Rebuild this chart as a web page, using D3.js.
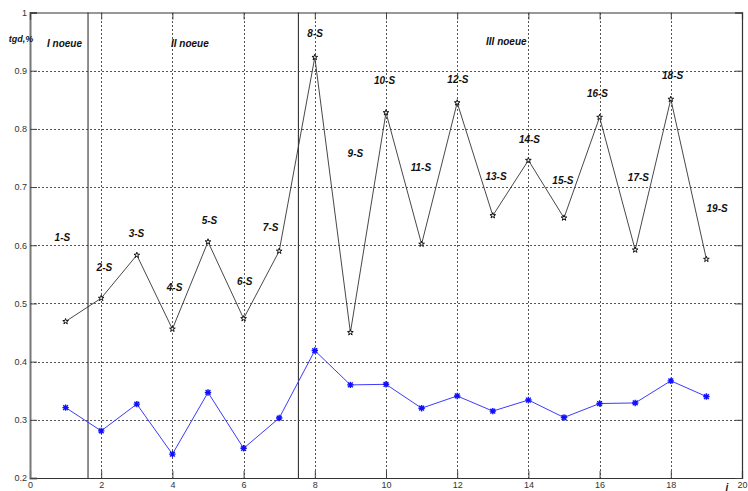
<!DOCTYPE html>
<html>
<head>
<meta charset="utf-8">
<script src="https://cdn.jsdelivr.net/npm/d3@7"></script>
<style>
  body { margin: 0; background: #fff; }
  svg { display: block; }
</style>
</head>
<body>
<svg id="chart" width="748" height="491"></svg>
<script>
// Sample numbers along the horizontal axis
const samples = d3.range(1, 20);

// tg δ, % — upper (black, star markers) and lower (blue, asterisk markers) series
const upperValues = [0.469, 0.509, 0.583, 0.456, 0.606, 0.474, 0.590, 0.923, 0.450, 0.828,
                     0.602, 0.845, 0.651, 0.746, 0.647, 0.820, 0.592, 0.851, 0.576];
const lowerValues = [0.321, 0.281, 0.327, 0.241, 0.347, 0.251, 0.303, 0.419, 0.360, 0.361,
                     0.320, 0.341, 0.315, 0.334, 0.304, 0.328, 0.329, 0.367, 0.340];

// Point annotations and their anchor points in data units
const pointLabels = samples.map(i => i + "-S");
const pointLabelX = [0.91, 2.09, 2.99, 4.06, 5.04, 6.03, 6.76, 8.01, 9.14, 9.96,
                     10.98, 12.02, 13.09, 14.03, 14.97, 15.94, 17.09, 18.05, 19.30];
const pointLabelY = [0.614, 0.561, 0.621, 0.528, 0.643, 0.537, 0.630, 0.964, 0.758, 0.883,
                     0.733, 0.885, 0.719, 0.782, 0.712, 0.861, 0.716, 0.892, 0.663];

// Shift boundaries and shift titles
const shiftBounds = [1.63, 7.54];
const shiftNames = ["I noeue", "II noeue", "III noeue"];
const shiftLabelX = [0.97, 4.49, 13.38];
const shiftLabelY = [0.947, 0.947, 0.950];

// Axis ticks
const xTickValues = [0, 2, 4, 6, 8, 10, 12, 14, 16, 18, 20];
const xTickLabels = ["0", "2", "4", "6", "8", "10", "12", "14", "16", "18", "20"];
const yTickValues = [0.2, 0.3, 0.4, 0.5, 0.6, 0.7, 0.8, 0.9, 1.0];
const yTickLabels = ["0.2", "0.3", "0.4", "0.5", "0.6", "0.7", "0.8", "0.9", "1"];

const svg = d3.select("#chart");
const plotLeft = 30, plotRight = 742, plotTop = 12.5, plotBottom = 478;

const x = d3.scaleLinear().domain([0, 20]).range([plotLeft, plotRight]);
const y = d3.scaleLinear().domain([0.2, 1]).range([plotBottom, plotTop]);

const tickFont = "Liberation Sans, Arial, sans-serif";

// Dotted grid
const grid = svg.append("g").attr("stroke", "#555").attr("stroke-width", 1)
  .attr("stroke-dasharray", "2,2").attr("shape-rendering", "crispEdges");
grid.selectAll("line.vx").data(xTickValues.slice(1, -1)).join("line")
  .attr("x1", d => Math.round(x(d)) + 0.5).attr("x2", d => Math.round(x(d)) + 0.5)
  .attr("y1", plotTop).attr("y2", plotBottom);
grid.selectAll("line.hy").data(yTickValues.slice(1, -1)).join("line")
  .attr("x1", plotLeft).attr("x2", plotRight)
  .attr("y1", d => Math.round(y(d)) + 0.5).attr("y2", d => Math.round(y(d)) + 0.5);

// Axes with inward ticks on all four sides
const fmtX = d => xTickLabels[xTickValues.indexOf(d)];
const fmtY = d => yTickLabels[yTickValues.indexOf(d)];

const gx = svg.append("g").attr("transform", `translate(0,${plotBottom})`)
  .call(d3.axisBottom(x).tickValues(xTickValues).tickFormat(fmtX).tickSize(-7).tickPadding(4));
const gy = svg.append("g").attr("transform", `translate(${plotLeft},0)`)
  .call(d3.axisLeft(y).tickValues(yTickValues).tickFormat(fmtY).tickSize(-7).tickPadding(3));
const gt = svg.append("g").attr("transform", `translate(0,${plotTop})`)
  .call(d3.axisTop(x).tickValues(xTickValues).tickFormat("").tickSize(-7));
const gr = svg.append("g").attr("transform", `translate(${plotRight},0)`)
  .call(d3.axisRight(y).tickValues(yTickValues).tickFormat("").tickSize(-7));

[gx, gy, gt, gr].forEach(g => {
  g.select(".domain").attr("stroke", "#333").attr("stroke-width", 1.2);
  g.selectAll(".tick line").attr("stroke", "#444");
  g.selectAll("text").attr("font-family", tickFont).attr("font-size", 9).attr("fill", "#333");
});
gy.select(".domain").attr("stroke", "#777").attr("stroke-width", 2);

// Shift boundaries
svg.append("g").selectAll("line").data(shiftBounds).join("line")
  .attr("x1", d => x(d)).attr("x2", d => x(d))
  .attr("y1", plotTop).attr("y2", plotBottom)
  .attr("stroke", "#333").attr("stroke-width", 1.1);

// Lower series (blue)
svg.append("path").datum(lowerValues)
  .attr("d", d3.line().x((d, i) => x(samples[i])).y(d => y(d)))
  .attr("fill", "none").attr("stroke", "#3b3bff").attr("stroke-width", 1);

const asterisk = svg.append("g").attr("stroke", "#1010ff").attr("stroke-width", 1.4);
lowerValues.forEach((v, i) => {
  const cx = x(samples[i]), cy = y(v), r = 3.2, q = 2.4;
  asterisk.append("path")
    .attr("d", `M${cx - r},${cy}H${cx + r}M${cx},${cy - r}V${cy + r}` +
               `M${cx - q},${cy - q}L${cx + q},${cy + q}M${cx - q},${cy + q}L${cx + q},${cy - q}`);
});

// Upper series (black)
svg.append("path").datum(upperValues)
  .attr("d", d3.line().x((d, i) => x(samples[i])).y(d => y(d)))
  .attr("fill", "none").attr("stroke", "#333").attr("stroke-width", 0.9);

svg.append("g").selectAll("path").data(upperValues).join("path")
  .attr("transform", (d, i) => `translate(${x(samples[i])},${y(d)})`)
  .attr("d", d3.symbol(d3.symbolStar, 10))
  .attr("fill", "#fff").attr("stroke", "#111").attr("stroke-width", 1);

// Point annotations
const labelFont = "Liberation Sans, Arial, sans-serif";
svg.append("g").selectAll("text").data(pointLabels).join("text")
  .attr("x", (d, i) => x(pointLabelX[i])).attr("y", (d, i) => y(pointLabelY[i]))
  .attr("dy", "0.35em").attr("text-anchor", "middle")
  .attr("font-family", labelFont).attr("font-size", 10)
  .attr("font-weight", "bold").attr("font-style", "italic").attr("fill", "#111")
  .text(d => d);

// Shift titles
svg.append("g").selectAll("text").data(shiftNames).join("text")
  .attr("x", (d, i) => x(shiftLabelX[i])).attr("y", (d, i) => y(shiftLabelY[i]))
  .attr("dy", "0.35em").attr("text-anchor", "middle")
  .attr("font-family", labelFont).attr("font-size", 10)
  .attr("font-weight", "bold").attr("font-style", "italic").attr("fill", "#111")
  .text(d => d);

// Axis titles
svg.append("text").attr("x", 21).attr("y", 39).attr("dy", "0.35em")
  .attr("text-anchor", "middle").attr("font-family", labelFont).attr("font-size", 9)
  .attr("font-weight", "bold").attr("font-style", "italic").attr("fill", "#111")
  .text("tgd,%");
svg.append("text").attr("x", 727).attr("y", 487).attr("dy", "0.35em")
  .attr("text-anchor", "middle").attr("font-family", labelFont).attr("font-size", 10)
  .attr("font-weight", "bold").attr("font-style", "italic").attr("fill", "#111")
  .text("i");
</script>
</body>
</html>
